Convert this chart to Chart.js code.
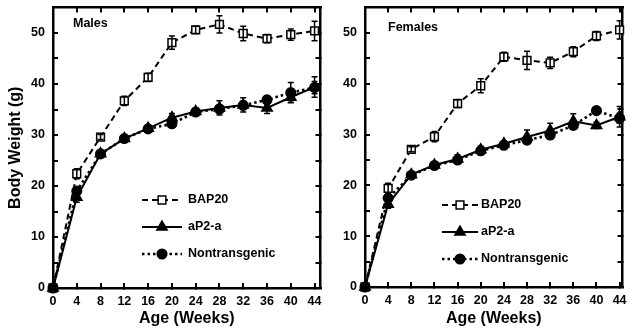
<!DOCTYPE html>
<html><head><meta charset="utf-8">
<script src="https://cdn.jsdelivr.net/npm/chart.js@4.4.1/dist/chart.umd.min.js"></script>
<style>
html,body{margin:0;padding:0;background:#fff;}
#wrap{position:relative;width:630px;height:331px;overflow:hidden;background:#fff;}
#wrap canvas{position:absolute;top:0;}
</style></head><body>
<div id="wrap">
<canvas id="cm" width="328" height="331" style="left:0px"></canvas>
<canvas id="cf" width="300" height="331" style="left:330px"></canvas>
</div>
<script>
// ---- data ----
const weeks = [0, 4, 8, 12, 16, 20, 24, 28, 32, 36, 40, 44];
const seriesNames = ['BAP20', 'aP2-a', 'Nontransgenic'];
const panelNames = ['Males', 'Females'];
const xTicks = [0, 4, 8, 12, 16, 20, 24, 28, 32, 36, 40, 44];
const yMajorTicks = [0, 10, 20, 30, 40, 50];
const yMinorTicks = [5, 15, 25, 35, 45];
const xTitle = 'Age (Weeks)';
const yTitle = 'Body Weight (g)';

const maleBAP20    = [0, 22.4, 29.6, 36.7, 41.3, 48.1, 50.6, 51.7, 49.9, 48.9, 49.7, 50.4];
const maleBAP20Err = [0, 1.0, 0.5, 0.9, 0.8, 1.3, 0.7, 1.7, 1.4, 0.8, 1.1, 1.9];
const maleAP2      = [0, 17.8, 26.3, 29.3, 31.3, 33.4, 34.6, 35.3, 35.9, 35.3, 37.4, 39.4];
const maleAP2Err   = [0, 1.0, 0.6, 0.5, 0.6, 0.8, 0.7, 1.4, 1.4, 1.1, 1.0, 2.0];
const maleNon      = [0, 19.0, 26.3, 29.3, 31.2, 32.2, 34.5, 35.1, 35.8, 36.9, 38.3, 39.3];
const maleNonErr   = [0, 0.6, 0.5, 0.5, 0.5, 0.6, 0.6, 0.8, 0.8, 0.8, 2.0, 1.2];

const femaleBAP20    = [0, 19.4, 27.1, 29.6, 36.1, 39.6, 45.3, 44.6, 44.1, 46.3, 49.4, 50.6];
const femaleBAP20Err = [0, 1.0, 0.5, 1.0, 0.8, 1.4, 0.9, 1.8, 1.1, 1.0, 0.9, 1.8];
const femaleAP2      = [0, 16.3, 22.1, 24.0, 25.2, 27.0, 28.2, 29.5, 30.8, 32.6, 31.8, 33.5];
const femaleAP2Err   = [0, 0.8, 0.5, 0.6, 0.8, 0.7, 0.6, 1.4, 1.4, 1.5, 0.6, 2.0];
const femaleNon      = [0, 17.5, 22.0, 23.9, 25.0, 26.8, 27.9, 28.9, 29.9, 31.8, 34.7, 33.2];
const femaleNonErr   = [0, 0.5, 0.4, 0.5, 0.5, 0.5, 0.5, 0.6, 0.6, 0.7, 0.5, 1.0];

// ---- styling ----
const FONT = '"Liberation Sans", Arial, Helvetica, sans-serif';
Chart.defaults.font.family = FONT;
Chart.defaults.font.weight = 'bold';
Chart.defaults.color = '#000';
Chart.defaults.animation = false;

const styles = [
  {borderDash:[6,4], borderWidth:2, pointStyle:'rect', pointRadius:5.5, fill:'#fff', order:0},
  {borderDash:[], borderWidth:2, pointStyle:'triangle', pointRadius:6, fill:'#000', order:2},
  {borderDash:[2.5,3], borderWidth:2.6, pointStyle:'circle', pointRadius:4.8, fill:'#000', order:1}
];

function makeDatasets(vals, errs) {
  return vals.map((arr, k) => {
    const st = styles[k];
    return {
      label: seriesNames[k],
      data: weeks.map((w, i) => ({x: w, y: arr[i]})),
      errors: errs[k],
      borderColor: '#000',
      borderWidth: st.borderWidth,
      borderDash: st.borderDash,
      borderCapStyle: 'butt',
      pointStyle: st.pointStyle,
      pointRadius: st.pointRadius,
      pointBorderColor: '#000',
      pointBorderWidth: 1.5,
      pointBackgroundColor: (c) => (k === 0 && c.dataIndex === 0) ? '#000' : st.fill,
      tension: 0,
      clip: false,
      order: st.order
    };
  });
}

function drawMarker(ctx, style, x, y, r, fill) {
  ctx.beginPath();
  if (style === 'rect') {
    const s = r * Math.SQRT1_2;
    ctx.rect(x - s, y - s, 2 * s, 2 * s);
  } else if (style === 'triangle') {
    for (let j = 0; j < 3; j++) {
      const a = -Math.PI / 2 + j * 2 * Math.PI / 3;
      const px = x + r * Math.cos(a), py = y + r * Math.sin(a);
      if (j === 0) ctx.moveTo(px, py); else ctx.lineTo(px, py);
    }
    ctx.closePath();
  } else {
    ctx.arc(x, y, r, 0, Math.PI * 2);
  }
  ctx.fillStyle = fill; ctx.fill();
  ctx.lineWidth = 1.5; ctx.strokeStyle = '#000'; ctx.setLineDash([]); ctx.stroke();
}

const errorBars = {
  id: 'errorBars',
  afterDatasetsDraw(chart) {
    const {ctx} = chart; const xs = chart.scales.x, ys = chart.scales.y;
    ctx.save(); ctx.strokeStyle = '#000'; ctx.lineWidth = 1.5; ctx.setLineDash([]);
    chart.data.datasets.forEach(ds => {
      ds.data.forEach((p, i) => {
        const e = ds.errors[i]; if (!e) return;
        const px = xs.getPixelForValue(p.x);
        const y0 = ys.getPixelForValue(p.y - e), y1 = ys.getPixelForValue(p.y + e);
        ctx.beginPath();
        ctx.moveTo(px, y0); ctx.lineTo(px, y1);
        ctx.moveTo(px - 3, y0); ctx.lineTo(px + 3, y0);
        ctx.moveTo(px - 3, y1); ctx.lineTo(px + 3, y1);
        ctx.stroke();
      });
    });
    ctx.restore();
  }
};

const panelLegend = {
  id: 'panelLegend',
  afterDraw(chart, args, o) {
    const {ctx} = chart;
    ctx.save();
    ctx.font = 'bold 12.5px ' + FONT;
    ctx.fillStyle = '#000'; ctx.textBaseline = 'middle'; ctx.textAlign = 'left';
    ctx.fillText(o.label, o.labelX, o.labelY);
    chart.data.datasets.forEach((ds, k) => {
      const y = o.ys[k];
      ctx.beginPath();
      ctx.setLineDash(ds.borderDash); ctx.lineWidth = ds.borderWidth; ctx.strokeStyle = '#000';
      ctx.moveTo(o.x0, y); ctx.lineTo(o.x1, y); ctx.stroke();
      drawMarker(ctx, ds.pointStyle, (o.x0 + o.x1) / 2, y, ds.pointRadius, styles[k].fill);
      ctx.fillStyle = '#000';
      ctx.fillText(ds.label, o.textX, y);
    });
    ctx.restore();
  }
};

function gridOpts() {
  return {drawOnChartArea: false, drawTicks: true, tickLength: -5, lineWidth: 2, color: '#000'};
}
const borderOpts = {display: true, width: 2.5, color: '#000'};
const setXTicks = s => { s.ticks = xTicks.map(v => ({value: v})); };
const setYTicks = s => { s.ticks = yMajorTicks.concat(yMinorTicks).sort((a, b) => a - b).map(v => ({value: v})); };
const fixX = h => s => { s.height = h; s.paddingLeft = 0; s.paddingRight = 0; s.paddingTop = 0; s.paddingBottom = 0; };
const fixY = w => s => { s.width = w; s.paddingLeft = 0; s.paddingRight = 0; s.paddingTop = 0; s.paddingBottom = 0; };

function makeChart(id, vals, errs, cfg) {
  return new Chart(document.getElementById(id), {
    type: 'line',
    data: {datasets: makeDatasets(vals, errs)},
    options: {
      responsive: false,
      layout: {padding: cfg.padding},
      plugins: {legend: {display: false}, tooltip: {enabled: false}, panelLegend: cfg.legend},
      scales: {
        x: {type: 'linear', position: 'bottom', min: 0, max: cfg.xMax,
            afterBuildTicks: setXTicks, afterFit: fixX(cfg.xHeight),
            ticks: {padding: 11, font: {size: 12.5, weight: 'bold'}, maxRotation: 0, autoSkip: false},
            grid: gridOpts(), border: borderOpts,
            title: {display: true, text: xTitle, font: {size: 16, weight: 'bold'}, padding: {top: 0, bottom: 3}}},
        x2: {type: 'linear', position: 'top', min: 0, max: cfg.xMax,
            afterBuildTicks: setXTicks, afterFit: fixX(0),
            ticks: {display: false}, grid: gridOpts(), border: borderOpts},
        y: {type: 'linear', position: 'left', min: 0, max: 55,
            afterBuildTicks: setYTicks, afterFit: fixY(cfg.yWidth),
            ticks: {padding: 13, font: {size: 12.5, weight: 'bold'}, autoSkip: false,
                    callback: v => yMajorTicks.includes(v) ? String(v) : ''},
            grid: gridOpts(), border: borderOpts,
            title: {display: cfg.yTitle, text: yTitle, font: {size: 16, weight: 'bold'}, padding: {top: 6, bottom: 0}}},
        y2: {type: 'linear', position: 'right', min: 0, max: 55,
            afterBuildTicks: setYTicks, afterFit: fixY(0),
            ticks: {display: false}, grid: gridOpts(), border: borderOpts}
      }
    },
    plugins: [errorBars, panelLegend]
  });
}

makeChart('cm', [maleBAP20, maleAP2, maleNon], [maleBAP20Err, maleAP2Err, maleNonErr], {
  padding: {top: 6, right: 3, left: 0, bottom: 0},
  xMax: 45, xHeight: 43, yWidth: 53, yTitle: true,
  legend: {label: panelNames[0], labelX: 73, labelY: 24, x0: 142, x1: 182, textX: 188, ys: [200, 227, 254]}
});
makeChart('cf', [femaleBAP20, femaleAP2, femaleNon], [femaleBAP20Err, femaleAP2Err, femaleNonErr], {
  padding: {top: 7, right: 2, left: 0, bottom: 0},
  xMax: 44.5, xHeight: 44, yWidth: 35, yTitle: false,
  legend: {label: panelNames[1], labelX: 58, labelY: 28, x0: 112, x1: 148, textX: 151, ys: [205, 232, 259]}
});
</script>
</body></html>
